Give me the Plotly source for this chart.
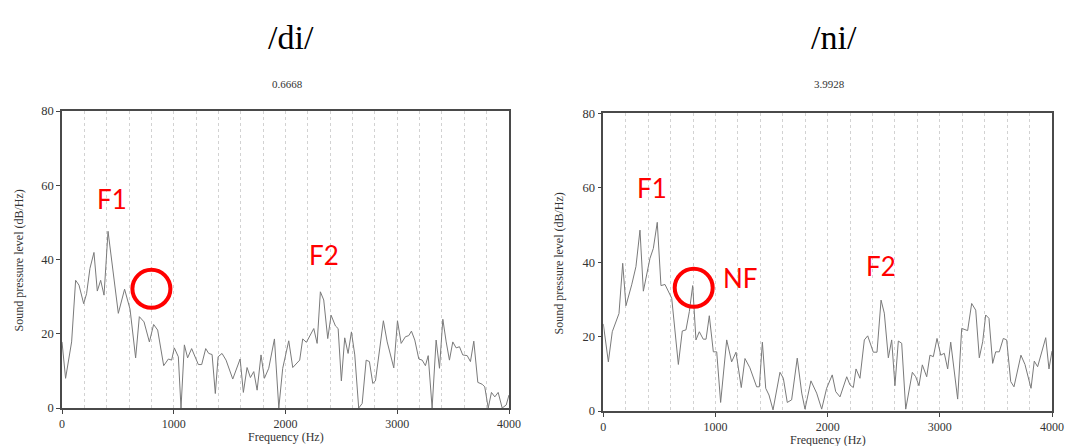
import plotly.graph_objects as go

# Spectrum slices of the vowel /i/ after /d/ and /n/ (frequency in Hz, level in dB/Hz)
di_freq = [0, 32, 86, 122, 152, 194, 220, 250, 286, 316, 346, 376, 412, 450, 504, 560,
           609, 659, 692, 734, 782, 820, 856, 910, 952, 981, 1005, 1041, 1065, 1095, 1124,
           1160, 1220, 1250, 1286, 1313, 1343, 1372, 1397, 1432, 1468, 1528, 1594, 1623,
           1656, 1686, 1716, 1746, 1781, 1811, 1850, 1901, 1940, 1975, 2029, 2065, 2127,
           2154, 2187, 2253, 2283, 2312, 2342, 2378, 2408, 2447, 2471, 2500, 2530, 2560,
           2590, 2620, 2655, 2686, 2722, 2751, 2781, 2805, 2841, 2876, 2910, 2969, 3002,
           3035, 3073, 3103, 3127, 3157, 3193, 3223, 3252, 3277, 3312, 3348, 3378, 3408,
           3438, 3467, 3497, 3527, 3557, 3586, 3626, 3655, 3685, 3721, 3760, 3783, 3814,
           3843, 3873, 3903, 3939, 3975, 4000]
di_level = [17.8, 8.0, 17.8, 34.4, 33.1, 28.1, 30.8, 37.6, 41.9, 31.5, 34.4, 30.4, 47.6,
            38.5, 25.5, 32.0, 26.6, 13.5, 24.6, 23.2, 17.8, 22.5, 21.0, 11.4, 13.2, 12.9,
            16.2, 13.8, 0.0, 17.0, 13.5, 16.0, 11.7, 11.7, 16.0, 14.7, 14.4, 3.9, 13.8,
            14.7, 12.9, 7.8, 13.2, 4.2, 10.9, 8.2, 9.8, 4.8, 14.3, 8.0, 10.7, 18.6, 0.0,
            10.7, 18.1, 10.9, 12.9, 18.6, 17.7, 21.4, 17.4, 31.3, 29.1, 18.7, 25.0, 22.1,
            21.4, 7.3, 18.9, 14.7, 20.5, 14.3, 0.0, 1.2, 12.9, 12.5, 6.6, 7.3, 15.1, 23.5,
            17.8, 10.8, 23.5, 17.4, 19.2, 19.5, 20.7, 18.3, 13.2, 12.9, 11.4, 14.1, 0.0,
            18.3, 10.7, 23.9, 17.8, 12.9, 17.8, 16.2, 16.5, 14.3, 14.1, 12.5, 18.0, 6.9,
            6.4, 5.7, 0.0, 4.2, 3.0, 4.2, 0.0, 0.8, 3.5]

ni_freq = [0, 45, 80, 140, 173, 202, 253, 291, 327, 357, 416, 446, 481, 514, 550, 610,
           669, 704, 737, 767, 797, 826, 856, 891, 916, 945, 981, 1011, 1046, 1100, 1144,
           1183, 1230, 1263, 1307, 1367, 1391, 1418, 1448, 1477, 1513, 1575, 1605, 1640,
           1679, 1729, 1769, 1798, 1851, 1902, 1947, 1991, 2041, 2072, 2110, 2170, 2199,
           2229, 2253, 2288, 2327, 2357, 2407, 2440, 2476, 2505, 2541, 2571, 2600, 2630,
           2660, 2696, 2755, 2785, 2814, 2844, 2883, 2912, 2942, 2975, 3008, 3040, 3070,
           3097, 3159, 3195, 3248, 3284, 3320, 3352, 3382, 3409, 3438, 3471, 3498, 3530,
           3566, 3596, 3632, 3661, 3723, 3759, 3813, 3842, 3872, 3913, 3944, 3973, 4000]
ni_level = [23.4, 13.2, 21.3, 26.2, 39.7, 28.3, 33.9, 38.8, 48.6, 32.2, 41.0, 43.7, 50.7,
            33.7, 34.0, 30.3, 12.5, 21.5, 21.8, 26.7, 33.7, 19.1, 21.3, 19.3, 19.3, 25.6,
            15.9, 15.9, 2.3, 19.1, 13.2, 15.8, 6.3, 14.1, 11.6, 6.5, 6.5, 18.5, 6.1, 4.3,
            0.3, 10.4, 8.8, 2.3, 3.0, 14.2, 4.8, 0.5, 8.1, 4.8, 0.5, 6.1, 9.7, 5.2, 3.8,
            9.2, 7.0, 6.3, 11.3, 8.8, 19.1, 20.2, 15.8, 15.8, 29.8, 26.3, 14.3, 19.1, 6.8,
            18.8, 18.2, 0.5, 10.4, 9.2, 6.8, 12.4, 9.2, 15.0, 14.6, 19.5, 15.0, 15.5, 11.3,
            18.5, 3.2, 22.2, 21.6, 28.9, 27.1, 14.3, 18.6, 25.8, 24.9, 12.8, 15.9, 15.9,
            19.5, 19.1, 7.9, 6.5, 15.0, 12.5, 6.1, 13.4, 11.9, 16.8, 19.7, 11.3, 16.1]

panel_titles = ["/di/", "/ni/"]
panel_times = ["0.6668", "3.9928"]
x_ticks = [0, 1000, 2000, 3000, 4000]
y_ticks = [0, 20, 40, 60, 80]

# Formant labels per panel: (text, Hz, dB)
di_labels = [("F1", 448, 56.3), ("F2", 2342, 41.3)]
ni_labels = [("F1", 437, 59.8), ("NF", 1219, 35.7), ("F2", 2473, 39.0)]
# Circled region per panel: (Hz, dB)
di_circle = (800, 32.1)
ni_circle = (806, 33.1)

W, H = 1068, 446
SERIF = "Liberation Serif"
RED = "#ff0000"
TRACE = "#7a7a7a"

fig = go.Figure()
fig.add_trace(go.Scatter(x=di_freq, y=di_level, mode="lines",
                         line=dict(color=TRACE, width=1), xaxis="x", yaxis="y",
                         showlegend=False, hoverinfo="skip"))
fig.add_trace(go.Scatter(x=ni_freq, y=ni_level, mode="lines",
                         line=dict(color=TRACE, width=1), xaxis="x2", yaxis="y2",
                         showlegend=False, hoverinfo="skip"))

# plot-area boxes in pixels: (left, right, top, bottom)
boxes = [(62, 509, 111, 408), (603.3, 1052, 113.3, 411)]


def xaxis_style(dom):
    return dict(domain=dom, range=[0, 4000], tickvals=x_ticks, ticks="outside", ticklen=4,
                tickcolor="#444", showline=True, linecolor="#4a4a4a", linewidth=1.6,
                mirror=True, showgrid=True, gridcolor="#d2d2d2", griddash="dot", gridwidth=1,
                minor=dict(dtick=200, showgrid=True, gridcolor="#d2d2d2", griddash="dot",
                           gridwidth=1, ticks=""),
                zeroline=False, automargin=False,
                tickfont=dict(family=SERIF, size=12, color="#333"),
                fixedrange=True)


def yaxis_style(dom, anchor):
    return dict(domain=dom, range=[0, 80], tickvals=y_ticks, ticks="outside", ticklen=4,
                tickcolor="#444", showline=True, linecolor="#4a4a4a", linewidth=1.6,
                mirror=True, showgrid=False, zeroline=False, anchor=anchor, automargin=False,
                tickfont=dict(family=SERIF, size=12.5, color="#333"), fixedrange=True)


xd = [[b[0] / W, b[1] / W] for b in boxes]
yd = [[1 - b[3] / H, 1 - b[2] / H] for b in boxes]

fig.update_layout(
    width=W, height=H, margin=dict(l=0, r=0, t=0, b=0, pad=0, autoexpand=False),
    paper_bgcolor="white", plot_bgcolor="white",
    xaxis=dict(xaxis_style(xd[0]), anchor="y"),
    yaxis=yaxis_style(yd[0], "x"),
    xaxis2=dict(xaxis_style(xd[1]), anchor="y2"),
    yaxis2=yaxis_style(yd[1], "x2"),
)

annotations = []
for i, b in enumerate(boxes):
    cx = (b[0] + b[1]) / 2
    annotations.append(dict(text=panel_titles[i], xref="paper", yref="paper",
                            x=(cx + 6) / W, y=1 - 37 / H, showarrow=False,
                            xanchor="center", yanchor="middle",
                            font=dict(family=SERIF, size=34, color="black")))
    annotations.append(dict(text=panel_times[i], xref="paper", yref="paper",
                            x=(cx + 2) / W, y=1 - 84 / H, showarrow=False,
                            xanchor="center", yanchor="middle",
                            font=dict(family=SERIF, size=11, color="#333")))
    annotations.append(dict(text="Frequency (Hz)", xref="paper", yref="paper",
                            x=cx / W, y=1 - (b[3] + 29) / H, showarrow=False,
                            xanchor="center", yanchor="middle",
                            font=dict(family=SERIF, size=12, color="#333")))
    annotations.append(dict(text="Sound pressure level (dB/Hz)", xref="paper", yref="paper",
                            x=(b[0] - 44) / W, y=1 - ((b[2] + b[3]) / 2 + 1) / H,
                            showarrow=False, textangle=-90,
                            xanchor="center", yanchor="middle",
                            font=dict(family=SERIF, size=12, color="#333")))

for axes, labels in (("", di_labels), ("2", ni_labels)):
    for text, f, db in labels:
        annotations.append(dict(text=text, xref="x" + axes, yref="y" + axes, x=f, y=db,
                                showarrow=False, xanchor="center", yanchor="middle",
                                font=dict(family="Lato", size=26, color=RED)))

shapes = []
for axes, (f, db) in (("", di_circle), ("2", ni_circle)):
    shapes.append(dict(type="circle", xref="x" + axes, yref="y" + axes,
                       xsizemode="pixel", ysizemode="pixel", xanchor=f, yanchor=db,
                       x0=-19, x1=19, y0=-19, y1=19,
                       line=dict(color=RED, width=4)))

fig.update_layout(annotations=annotations, shapes=shapes)
fig.write_html("out.html")
